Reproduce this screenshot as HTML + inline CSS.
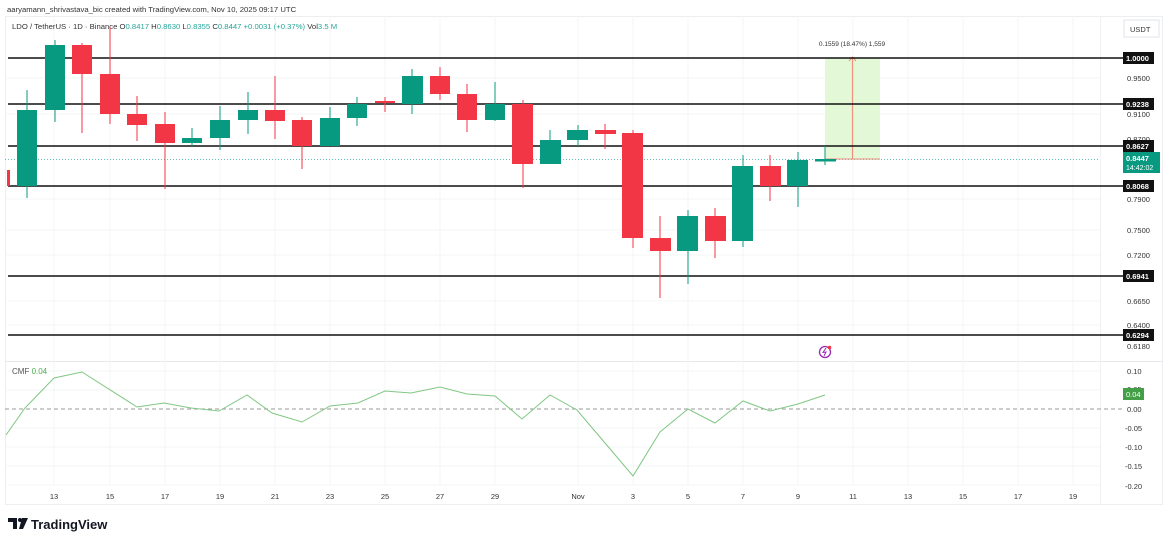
<!DOCTYPE html>
<html><head><meta charset="utf-8"><style>
html,body{margin:0;padding:0;background:#fff;}
svg{display:block;font-family:"Liberation Sans",sans-serif;}
</style></head><body>
<svg width="1170" height="544" viewBox="0 0 1170 544" xmlns="http://www.w3.org/2000/svg">
<rect width="1170" height="544" fill="#fff"/>
<rect x="5.5" y="16.5" width="1157" height="488" fill="none" stroke="#eceef2"/>
<line x1="5" y1="361.5" x2="1163" y2="361.5" stroke="#e6e8ec"/>
<line x1="1100.5" y1="16" x2="1100.5" y2="505" stroke="#f0f1f3"/>
<g stroke="#f3f4f6" stroke-width="1">
<line x1="54" y1="16" x2="54" y2="485"/><line x1="110" y1="16" x2="110" y2="485"/><line x1="165" y1="16" x2="165" y2="485"/><line x1="220" y1="16" x2="220" y2="485"/><line x1="275" y1="16" x2="275" y2="485"/><line x1="330" y1="16" x2="330" y2="485"/><line x1="385" y1="16" x2="385" y2="485"/><line x1="440" y1="16" x2="440" y2="485"/><line x1="495" y1="16" x2="495" y2="485"/><line x1="578" y1="16" x2="578" y2="485"/><line x1="633" y1="16" x2="633" y2="485"/><line x1="688" y1="16" x2="688" y2="485"/><line x1="743" y1="16" x2="743" y2="485"/><line x1="798" y1="16" x2="798" y2="485"/><line x1="853" y1="16" x2="853" y2="485"/><line x1="908" y1="16" x2="908" y2="485"/><line x1="963" y1="16" x2="963" y2="485"/><line x1="1018" y1="16" x2="1018" y2="485"/><line x1="1073" y1="16" x2="1073" y2="485"/>
<line x1="5" y1="78" x2="1100" y2="78"/><line x1="5" y1="114" x2="1100" y2="114"/><line x1="5" y1="199" x2="1100" y2="199"/><line x1="5" y1="230" x2="1100" y2="230"/><line x1="5" y1="255" x2="1100" y2="255"/><line x1="5" y1="301" x2="1100" y2="301"/><line x1="5" y1="325" x2="1100" y2="325"/>
<line x1="5" y1="371" x2="1100" y2="371"/><line x1="5" y1="390" x2="1100" y2="390"/><line x1="5" y1="428" x2="1100" y2="428"/><line x1="5" y1="447" x2="1100" y2="447"/><line x1="5" y1="466" x2="1100" y2="466"/><line x1="5" y1="485" x2="1100" y2="485"/>
</g>
<text x="7" y="12" font-size="7.7" fill="#333">aaryamann_shrivastava_bic created with TradingView.com, Nov 10, 2025 09:17 UTC</text>
<text x="12" y="29" font-size="7.7" fill="#333">LDO / TetherUS · 1D · Binance <tspan fill="#333">O</tspan><tspan fill="#26a69a">0.8417</tspan> <tspan fill="#333">H</tspan><tspan fill="#26a69a">0.8630</tspan> <tspan fill="#333">L</tspan><tspan fill="#26a69a">0.8355</tspan> <tspan fill="#333">C</tspan><tspan fill="#26a69a">0.8447</tspan> <tspan fill="#26a69a">+0.0031 (+0.37%)</tspan> <tspan fill="#333">Vol</tspan><tspan fill="#26a69a">3.5 M</tspan></text>
<line x1="5" y1="159.5" x2="1100" y2="159.5" stroke="#26a69a" stroke-dasharray="1,2" opacity="0.7"/>
<rect x="825" y="58" width="55" height="101" fill="#dff7d3" opacity="0.9"/>
<line x1="825" y1="159" x2="880" y2="159" stroke="#f0907f"/>
<line x1="852.5" y1="159" x2="852.5" y2="58" stroke="#f0907f" stroke-width="1.2"/>
<path d="M849 61 L852.5 57 L856 61" fill="none" stroke="#f0907f"/>
<text x="852" y="46" font-size="6.5" fill="#333" text-anchor="middle">0.1559 (18.47%) 1,559</text>
<g stroke="#111" stroke-width="1.6">
<line x1="8" y1="58" x2="1123" y2="58"/><line x1="8" y1="104" x2="1123" y2="104"/><line x1="8" y1="146" x2="1123" y2="146"/><line x1="8" y1="186" x2="1123" y2="186"/><line x1="8" y1="276" x2="1123" y2="276"/><line x1="8" y1="335" x2="1123" y2="335"/>
</g>
<g>
<rect x="7" y="170" width="3" height="16" fill="#f23645"/>
<g stroke-width="1">
<line x1="27" y1="90" x2="27" y2="198" stroke="#089981"/><rect x="17" y="110" width="20" height="76" fill="#089981"/>
<line x1="55" y1="40" x2="55" y2="122" stroke="#089981"/><rect x="45" y="45" width="20" height="65" fill="#089981"/>
<line x1="82" y1="43" x2="82" y2="133" stroke="#f23645"/><rect x="72" y="45" width="20" height="29" fill="#f23645"/>
<line x1="110" y1="27" x2="110" y2="124" stroke="#f23645"/><rect x="100" y="74" width="20" height="40" fill="#f23645"/>
<line x1="137" y1="96" x2="137" y2="141" stroke="#f23645"/><rect x="127" y="114" width="20" height="11" fill="#f23645"/>
<line x1="165" y1="112" x2="165" y2="189" stroke="#f23645"/><rect x="155" y="124" width="20" height="19" fill="#f23645"/>
<line x1="192" y1="128" x2="192" y2="146" stroke="#089981"/><rect x="182" y="138" width="20" height="5" fill="#089981"/>
<line x1="220" y1="106" x2="220" y2="150" stroke="#089981"/><rect x="210" y="120" width="20" height="18" fill="#089981"/>
<line x1="248" y1="92" x2="248" y2="134" stroke="#089981"/><rect x="238" y="110" width="20" height="10" fill="#089981"/>
<line x1="275" y1="76" x2="275" y2="139" stroke="#f23645"/><rect x="265" y="110" width="20" height="11" fill="#f23645"/>
<line x1="302" y1="117" x2="302" y2="169" stroke="#f23645"/><rect x="292" y="120" width="20" height="26" fill="#f23645"/>
<line x1="330" y1="107" x2="330" y2="146" stroke="#089981"/><rect x="320" y="118" width="20" height="28" fill="#089981"/>
<line x1="357" y1="97" x2="357" y2="126" stroke="#089981"/><rect x="347" y="104" width="20" height="14" fill="#089981"/>
<line x1="385" y1="97" x2="385" y2="112" stroke="#f23645"/><rect x="375" y="101" width="20" height="2" fill="#f23645"/>
<line x1="412" y1="69" x2="412" y2="114" stroke="#089981"/><rect x="402" y="76" width="21" height="28" fill="#089981"/>
<line x1="440" y1="67" x2="440" y2="100" stroke="#f23645"/><rect x="430" y="76" width="20" height="18" fill="#f23645"/>
<line x1="467" y1="84" x2="467" y2="132" stroke="#f23645"/><rect x="457" y="94" width="20" height="26" fill="#f23645"/>
<line x1="495" y1="82" x2="495" y2="121" stroke="#089981"/><rect x="485" y="104" width="20" height="16" fill="#089981"/>
<line x1="523" y1="100" x2="523" y2="188" stroke="#f23645"/><rect x="512" y="104" width="21" height="60" fill="#f23645"/>
<line x1="550" y1="130" x2="550" y2="164" stroke="#089981"/><rect x="540" y="140" width="21" height="24" fill="#089981"/>
<line x1="578" y1="125" x2="578" y2="146" stroke="#089981"/><rect x="567" y="130" width="21" height="10" fill="#089981"/>
<line x1="605" y1="124" x2="605" y2="149" stroke="#f23645"/><rect x="595" y="130" width="21" height="4" fill="#f23645"/>
<line x1="633" y1="130" x2="633" y2="248" stroke="#f23645"/><rect x="622" y="133" width="21" height="105" fill="#f23645"/>
<line x1="660" y1="216" x2="660" y2="298" stroke="#f23645"/><rect x="650" y="238" width="21" height="13" fill="#f23645"/>
<line x1="688" y1="210" x2="688" y2="284" stroke="#089981"/><rect x="677" y="216" width="21" height="35" fill="#089981"/>
<line x1="715" y1="208" x2="715" y2="258" stroke="#f23645"/><rect x="705" y="216" width="21" height="25" fill="#f23645"/>
<line x1="743" y1="155" x2="743" y2="247" stroke="#089981"/><rect x="732" y="166" width="21" height="75" fill="#089981"/>
<line x1="770" y1="155" x2="770" y2="201" stroke="#f23645"/><rect x="760" y="166" width="21" height="20" fill="#f23645"/>
<line x1="798" y1="152" x2="798" y2="207" stroke="#089981"/><rect x="787" y="160" width="21" height="26" fill="#089981"/>
<line x1="825" y1="146" x2="825" y2="165" stroke="#089981"/><rect x="815" y="159" width="21" height="2.5" fill="#089981"/>
</g></g>
<circle cx="825" cy="352" r="5.5" fill="none" stroke="#9c27b0" stroke-width="1.3"/>
<path d="M826 348 L823 352.5 L826 352 L824 356" fill="none" stroke="#9c27b0" stroke-width="1"/>
<circle cx="829.5" cy="347.5" r="1.8" fill="#f23645"/>
<text x="12" y="374" font-size="8" fill="#555">CMF <tspan fill="#4caf50">0.04</tspan></text>
<line x1="5" y1="409" x2="1122" y2="409" stroke="#999" stroke-dasharray="4,3"/>
<polyline fill="none" stroke="#81c784" stroke-width="1" points="6,435 25,408 54,378 82,372 137,407 164,403 191,408 219,411 247,395 272,413 302,422 330,406 358,403 385,391 411,393 440,387 467,394 495,396 522,419 550,395 577,410 605,443 633,476 660,432 688,409 715,423 743,401 770,411 798,404 825,395"/>
<g font-size="7.5" fill="#333">
<rect x="1124" y="20" width="35" height="17" fill="#fff" stroke="#e0e3eb"/>
<text x="1130" y="32">USDT</text>
<text x="1127" y="81">0.9500</text>
<text x="1127" y="117">0.9100</text>
<text x="1127" y="142">0.8700</text>
<text x="1127" y="202">0.7900</text>
<text x="1127" y="233">0.7500</text>
<text x="1127" y="258">0.7200</text>
<text x="1127" y="304">0.6650</text>
<text x="1127" y="328">0.6400</text>
<text x="1127" y="349">0.6180</text>
</g>
<g font-size="7.5" fill="#fff" font-weight="bold">
<rect x="1123" y="52" width="31" height="12" fill="#111"/><text x="1126" y="61">1.0000</text>
<rect x="1123" y="98" width="31" height="12" fill="#111"/><text x="1126" y="107">0.9238</text>
<rect x="1123" y="140" width="31" height="12" fill="#111"/><text x="1126" y="149">0.8627</text>
<rect x="1123" y="180" width="31" height="12" fill="#111"/><text x="1126" y="189">0.8068</text>
<rect x="1123" y="270" width="31" height="12" fill="#111"/><text x="1126" y="279">0.6941</text>
<rect x="1123" y="329" width="31" height="12" fill="#111"/><text x="1126" y="338">0.6294</text>
<rect x="1123" y="152" width="37" height="21" fill="#089981"/><text x="1126" y="161">0.8447</text>
<text x="1126" y="170" font-weight="normal" font-size="7">14:42:02</text>
</g>
<g font-size="7.5" fill="#333">
<text x="1127" y="374">0.10</text>
<text x="1127" y="392">0.05</text>
<rect x="1123" y="388" width="21" height="12" fill="#43a047"/><text x="1126" y="397" fill="#fff">0.04</text>
<text x="1127" y="412">0.00</text>
<text x="1125" y="431">-0.05</text>
<text x="1125" y="450">-0.10</text>
<text x="1125" y="469">-0.15</text>
<text x="1125" y="489">-0.20</text>
</g>
<g font-size="7.5" fill="#333" text-anchor="middle">
<text x="54" y="499">13</text><text x="110" y="499">15</text><text x="165" y="499">17</text><text x="220" y="499">19</text><text x="275" y="499">21</text><text x="330" y="499">23</text><text x="385" y="499">25</text><text x="440" y="499">27</text><text x="495" y="499">29</text><text x="578" y="499">Nov</text><text x="633" y="499">3</text><text x="688" y="499">5</text><text x="743" y="499">7</text><text x="798" y="499">9</text><text x="853" y="499">11</text><text x="908" y="499">13</text><text x="963" y="499">15</text><text x="1018" y="499">17</text><text x="1073" y="499">19</text>
</g>
<g fill="#131722">
<path d="M8 518 h9 v11 h-4 v-7 h-5z"/><circle cx="20" cy="520" r="2"/><path d="M22 518 h6 l-5 11 h-4z"/>
</g>
<text x="31" y="529" font-size="13" font-weight="bold" fill="#131722">TradingView</text>
</svg>
</body></html>
